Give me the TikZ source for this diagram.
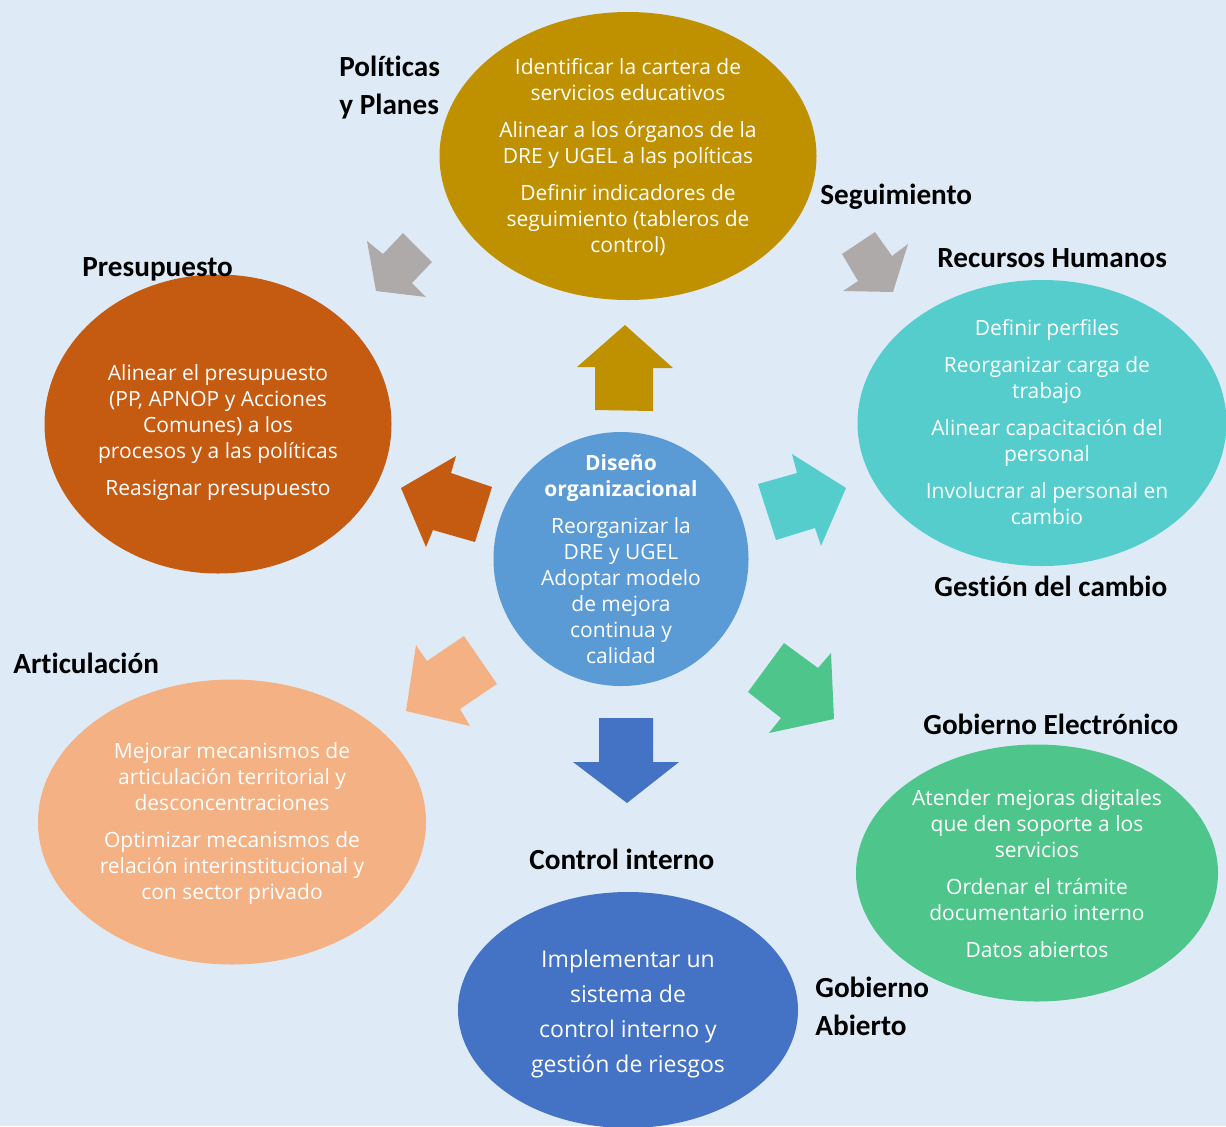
\documentclass[tikz,border=0pt]{standalone}
\usepackage{fontspec}
\usetikzlibrary{shapes.geometric}
\newfontfamily\osans[Ligatures=CommonOff]{Open Sans}
\newfontfamily\calib[Ligatures=CommonOff]{Carlito}
\definecolor{bgc}{HTML}{DEEBF7}
\definecolor{goldc}{HTML}{BF9000}
\definecolor{orangec}{HTML}{C55A11}
\definecolor{tealc}{HTML}{56CDCD}
\definecolor{midbluec}{HTML}{5B9BD5}
\definecolor{peachc}{HTML}{F4B183}
\definecolor{darkbluec}{HTML}{4472C4}
\definecolor{greenc}{HTML}{4EC68B}
\definecolor{grayc}{HTML}{AEAAAA}
\begin{document}
\begin{tikzpicture}[x=0.5pt,y=-0.5pt,
  ell/.style={ellipse, inner sep=0pt, outer sep=0pt, draw=none},
  body/.style={text=white, align=center, inner sep=0pt,
    font=\osans\fontsize{10.5}{13}\selectfont},
  lbl/.style={inner sep=0pt, align=left, text=black,
    font=\calib\bfseries\fontsize{14.6}{19}\selectfont},
]
% canvas
\useasboundingbox (0,0) rectangle (1226,1126);
\fill[bgc] (0,0) rectangle (1226,1126);
\clip (0,0) rectangle (1226,1126);

% ellipses
\node[ell, fill=goldc, minimum width=188.5pt, minimum height=144pt] (eTop) at (628,156) {};
\node[ell, fill=orangec, minimum width=173.5pt, minimum height=149.5pt] (eBud) at (218,424) {};
\node[ell, fill=tealc, minimum width=184.5pt, minimum height=143pt] (eHR) at (1042,423) {};
\node[ell, fill=midbluec, minimum width=127.5pt, minimum height=127pt] (eMid) at (621,559) {};
\node[ell, fill=peachc, minimum width=194pt, minimum height=142.5pt] (eArt) at (232,822) {};
\node[ell, fill=darkbluec, minimum width=170pt, minimum height=118pt] (eCtl) at (628,1010) {};
\node[ell, fill=greenc, minimum width=181pt, minimum height=128.5pt] (eGob) at (1037,873) {};

% block arrows around the centre
\fill[grayc] (367,241) -- (383,254) -- (403,233) -- (432,262) -- (412,283) -- (426,297) -- (376,291) -- cycle;
\fill[grayc] (875,232) -- (842,254) -- (858,281) -- (843,291) -- (893,292) -- (908,244) -- (892,256) -- cycle;
\fill[goldc] (625,325) -- (673,368) -- (653,368) -- (653,411) -- (595,410) -- (595,367) -- (577,367) -- cycle;
\fill[orangec] (401,488) -- (456,456) -- (451,473) -- (492,487) -- (475,542) -- (433,530) -- (426,547) -- cycle;
\fill[tealc] (758,484) -- (797,473) -- (792,454) -- (846,488) -- (821,546) -- (815,528) -- (776,540) -- cycle;
\fill[peachc] (416,645) -- (427,661) -- (464,636) -- (497,684) -- (460,709) -- (470,726) -- (406,711) -- cycle;
\fill[greenc] (748,692) -- (784,643) -- (818,668) -- (831,653) -- (834,719) -- (769,733) -- (781,718) -- cycle;
\fill[darkbluec] (599,718) -- (653,718) -- (653,762) -- (679,762) -- (627,803) -- (573,762) -- (599,762) -- cycle;

% texts inside the ellipses
\node[body] (tTop) at (628,157) {Identificar la cartera de\\servicios educativos\\[5.5pt]
  Alinear a los órganos de la\\DRE y UGEL a las políticas\\[5.5pt]
  Definir indicadores de\\seguimiento (tableros de\\control)};
\node[body] (tBud) at (218,433) {Alinear el presupuesto\\(PP, APNOP y Acciones\\Comunes) a los\\procesos y a las políticas\\[5.5pt]
  Reasignar presupuesto};
\node[body] (tHR) at (1047,422) {Definir perfiles\\[5.5pt]
  Reorganizar carga de\\trabajo\\[5.5pt]
  Alinear capacitación del\\personal\\[5.5pt]
  Involucrar al personal en\\cambio};
\node[body] (tMid) at (621,559) {\textbf{Diseño}\\\textbf{organizacional}\\[5.5pt]
  Reorganizar la\\DRE y UGEL\\Adoptar modelo\\de mejora\\continua y\\calidad};
\node[body] (tArt) at (232,824) {Mejorar mecanismos de\\articulación territorial y\\desconcentraciones\\[5.5pt]
  Optimizar mecanismos de\\relación interinstitucional y\\con sector privado};
\node[body, font=\osans\fontsize{11.5}{17.5}\selectfont] (tCtl) at (628,1014) {Implementar un\\sistema de\\control interno y\\gestión de riesgos};
\node[body] (tGob) at (1037,874) {Atender mejoras digitales\\que den soporte a los\\servicios\\[5.5pt]
  Ordenar el trámite\\documentario interno\\[5.5pt]
  Datos abiertos};

% outside labels
\node[lbl, anchor=west] (lPol) at (339,88) {Políticas\\y Planes};
\node[lbl, anchor=base west] (lPre) at (82,276) {Presupuesto};
\node[lbl, anchor=base west] (lSeg) at (820,204) {Seguimiento};
\node[lbl, anchor=base west] (lRH) at (937,267) {Recursos Humanos};
\node[lbl, anchor=base west] (lGC) at (934,596) {Gestión del cambio};
\node[lbl, anchor=base west] (lArt) at (13,673) {Articulación};
\node[lbl, anchor=base west] (lGE) at (923,734) {Gobierno Electrónico};
\node[lbl, anchor=base west] (lCI) at (529,869) {Control interno};
\node[lbl, anchor=west] (lGA) at (815,1006) {Gobierno\\Abierto};
\end{tikzpicture}
\end{document}
